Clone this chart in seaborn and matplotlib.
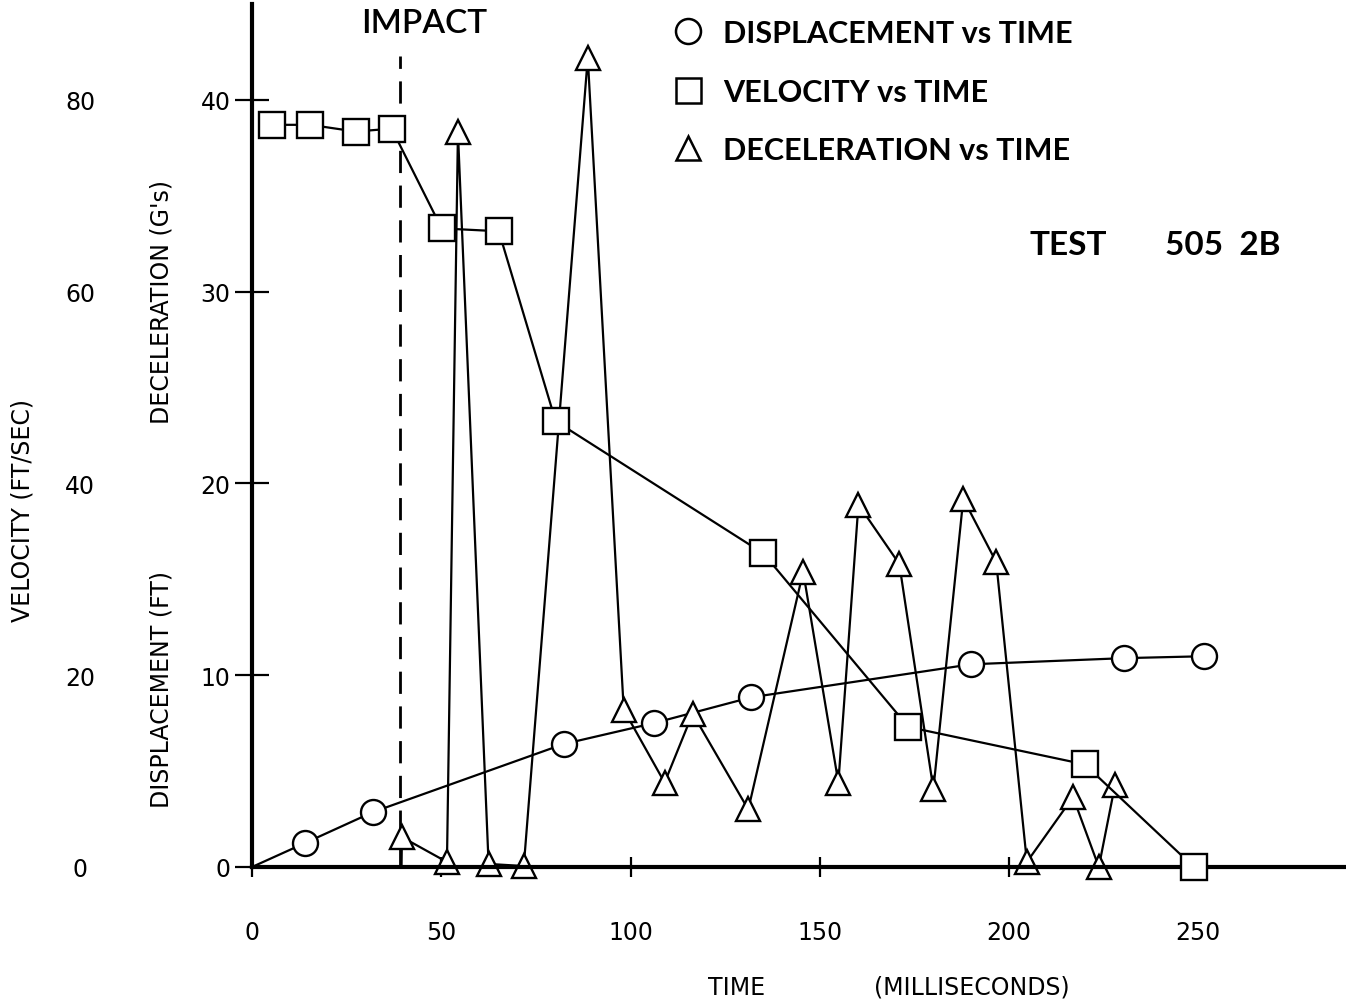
import pandas as pd
import seaborn as sns
import matplotlib.pyplot as plt
from matplotlib.lines import Line2D

# displacement (ft) vs time (ms)
disp_t = [0, 14.0, 31.9, 82.3, 106.1, 131.9, 190.0, 230.3, 251.5]
disp_ft = [0, 1.25, 2.86, 6.41, 7.5, 8.85, 10.57, 10.89, 10.99]

# velocity (ft/sec) vs time (ms)
vel_t = [5.3, 15.3, 27.4, 36.9, 50.1, 65.2, 80.2, 135.1, 173.4, 220.0, 248.8]
vel_fps = [77.4, 77.4, 76.7, 77.0, 66.6, 66.3, 46.5, 32.7, 14.6, 10.7, 0.0]

# deceleration (G's) vs time (ms), first point is the trace leaving the axis
dec_t = [39.5, 39.6, 51.5, 54.4, 62.5, 71.8, 88.7, 98.2, 109.0, 116.4, 131.1,
         145.6, 154.9, 160.2, 171.0, 180.0, 187.9, 196.6, 204.7, 216.9, 223.7, 228.0]
dec_g = [0, 1.56, 0.26, 38.3, 0.16, 0.05, 42.2, 8.2, 4.4, 8.0, 3.0,
         15.4, 4.4, 18.9, 15.8, 4.06, 19.2, 15.9, 0.26, 3.65, 0.0, 4.3]

impact_t = 39.0
time_ticks = [0, 50, 100, 150, 200, 250]
g_ticks = [0, 10, 20, 30, 40]
vel_ticks = [0, 20, 40, 60, 80]
legend_labels = ["DISPLACEMENT vs TIME", "VELOCITY vs TIME", "DECELERATION vs TIME"]

sns.set_theme(style="white")
plt.rcParams['font.family'] = ['DejaVu Sans']
bold_font = ['Lato', 'DejaVu Sans']

W, H = 1346, 1003
fig = plt.figure(figsize=(W / 100, H / 100), dpi=100)
ax = fig.add_axes([252 / W, 135 / H, 1094 / W, 863 / H])
ax.set_xlim(0, 289)
ax.set_ylim(0, 45)
ax_v = ax.twinx()
ax_v.set_ylim(0, 90)

line_kw = dict(color='black', linewidth=1.6, markerfacecolor='white',
               markeredgecolor='black', markeredgewidth=1.7, clip_on=False,
               sort=False, estimator=None)

df_disp = pd.DataFrame({'t': disp_t, 'y': disp_ft})
sns.lineplot(data=df_disp, x='t', y='y', ax=ax, marker='o', markersize=18,
             markevery=list(range(1, len(disp_t))), **line_kw)

df_dec = pd.DataFrame({'t': dec_t, 'y': dec_g})
sns.lineplot(data=df_dec, x='t', y='y', ax=ax, marker='^', markersize=17,
             markevery=list(range(1, len(dec_t))), **line_kw)

df_vel = pd.DataFrame({'t': vel_t, 'y': vel_fps})
sns.lineplot(data=df_vel, x='t', y='y', ax=ax_v, marker='s', markersize=19, **line_kw)

ax.axvline(impact_t, ymin=0, ymax=42.3 / 45, color='black', linewidth=2.0,
           linestyle=(0, (8, 4.5)), zorder=1)

# axes styling
for side in ['top', 'right']:
    ax.spines[side].set_visible(False)
for side in ['left', 'bottom']:
    ax.spines[side].set_linewidth(3)
    ax.spines[side].set_color('black')
for sp in ax_v.spines.values():
    sp.set_visible(False)

ax.set_xticks(time_ticks)
ax.set_yticks(g_ticks)
ax.tick_params(axis='both', direction='inout', width=1.6, colors='black',
               bottom=True, left=True, labelsize=17)
ax.tick_params(axis='y', length=25, pad=3)
ax.tick_params(axis='x', length=14, pad=31)

ax_v.set_yticks(vel_ticks)
ax_v.yaxis.tick_left()
ax_v.spines['left'].set_position(('axes', (80 - 252) / 1094))
ax_v.tick_params(axis='y', left=True, labelleft=True, right=False, labelright=False,
                 length=0, pad=0, labelsize=17, colors='black')
plt.setp(ax_v.get_yticklabels(), ha='center')

ax.set_xlabel("TIME", fontsize=17, color='black')
ax.xaxis.set_label_coords((737 - 252) / 1094, (868 - 976) / 863)
ax.text((972 - 252) / 1094, (868 - 976) / 863, "(MILLISECONDS)", transform=ax.transAxes,
        ha='center', va='top', fontsize=17, color='black')

ax.set_ylabel("DECELERATION (G's)", fontsize=17, color='black')
ax.yaxis.set_label_coords((174 - 252) / 1094, (868 - 302) / 863)
ax.text((174 - 252) / 1094, (868 - 690) / 863, "DISPLACEMENT (FT)", transform=ax.transAxes,
        rotation=90, rotation_mode='anchor', ha='center', va='bottom',
        fontsize=17, color='black')

ax_v.yaxis.set_label_position('left')
ax_v.set_ylabel("VELOCITY (FT/SEC)", fontsize=17, color='black')
ax_v.yaxis.set_label_coords((35 - 252) / 1094, (868 - 511) / 863)

# annotations
fig.text(424 / W, 1 - 24 / H, "IMPACT", ha='center', va='center', fontsize=24,
         fontweight='semibold', family=bold_font, color='black')
fig.text(1030 / W, 1 - 246 / H, "TEST", ha='left', va='center', fontsize=24,
         fontweight='bold', family=bold_font, color='black')
fig.text(1165 / W, 1 - 246 / H, "505  2B", ha='left', va='center', fontsize=24,
         fontweight='bold', family=bold_font, color='black')

handle_kw = dict(ls='none', mfc='white', mec='black', mew=1.8, color='black')
handles = [Line2D([], [], marker='o', ms=18, **handle_kw),
           Line2D([], [], marker='s', ms=18, **handle_kw),
           Line2D([], [], marker='^', ms=17, **handle_kw)]
fig.legend(handles, legend_labels, loc='upper left', bbox_to_anchor=(673 / W, 1 - 20 / H),
           frameon=False, prop={'weight': 'bold', 'size': 22, 'family': bold_font},
           handlelength=1.0, handletextpad=0.65, labelspacing=1.0, borderaxespad=0,
           borderpad=0, labelcolor='black')

fig.savefig("out.png", dpi=100)
